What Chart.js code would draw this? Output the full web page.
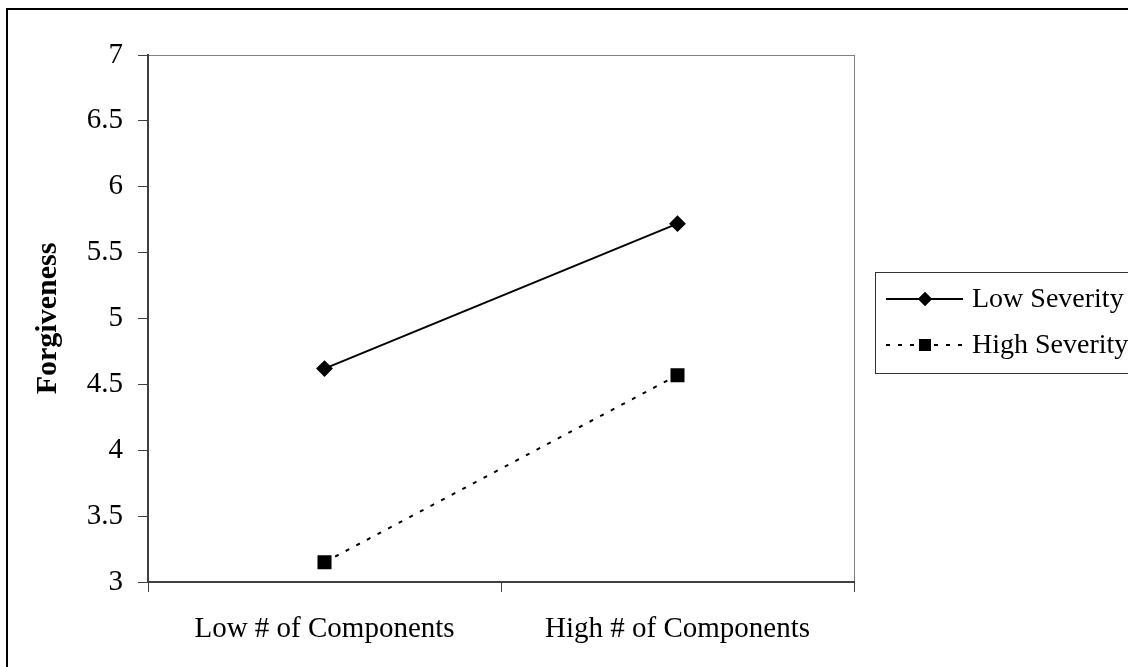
<!DOCTYPE html>
<html>
<head>
<meta charset="utf-8">
<script src="https://cdn.jsdelivr.net/npm/chart.js@4"></script>
<style>
  html, body { margin: 0; padding: 0; background: #fff; }
  #wrap { position: relative; width: 1128px; height: 667px; }
</style>
</head>
<body>
<div id="wrap"><canvas id="chart"></canvas></div>
<script>
// data
const categories = ['Low # of Components', 'High # of Components'];
const lowSeverity = [4.62, 5.72];
const highSeverity = [3.15, 4.57];
const seriesNames = ['Low Severity', 'High Severity'];
const yMin = 3, yMax = 7, yStep = 0.5;

const FONT = "'Liberation Serif', 'Times New Roman', serif";
const AXIS = '#404040';

// frame, plot box and legend drawn by hand
const decor = {
  id: 'decor',
  beforeDraw(chart) {
    const c = chart.ctx, a = chart.chartArea;
    c.save();
    c.strokeStyle = '#000';
    c.lineWidth = 2;
    c.strokeRect(7, 9, 1200, 700);
    c.strokeStyle = '#808080';
    c.lineWidth = 1;
    c.strokeRect(a.left + 0.5, a.top + 0.5, a.right - a.left, a.bottom - a.top);
    c.restore();
  },
  afterDraw(chart) {
    const c = chart.ctx;
    c.save();
    c.strokeStyle = '#333';
    c.lineWidth = 1;
    c.strokeRect(875.5, 272.5, 300, 101);
    const rows = [299, 345];
    chart.data.datasets.forEach((ds, i) => {
      const y = rows[i];
      c.strokeStyle = '#000';
      c.lineWidth = ds.borderWidth;
      c.setLineDash(ds.borderDash || []);
      c.beginPath(); c.moveTo(886, y); c.lineTo(963, y); c.stroke();
      c.setLineDash([]);
      Chart.helpers.drawPoint(c, { pointStyle: ds.pointStyle, radius: ds.pointRadius, borderWidth: 0 }, 925, y);
      c.fillStyle = '#000';
      c.fill();
      c.font = '28px ' + FONT;
      c.textBaseline = 'middle';
      c.fillText(ds.label, 972, y + 1);
    });
    c.restore();
  }
};

new Chart(document.getElementById('chart'), {
  type: 'line',
  data: {
    labels: categories,
    datasets: [{
      label: seriesNames[0],
      data: lowSeverity,
      borderColor: '#000',
      backgroundColor: '#000',
      borderWidth: 2,
      pointStyle: 'rectRot',
      pointRadius: 7,
      pointHoverRadius: 7
    }, {
      label: seriesNames[1],
      data: highSeverity,
      borderColor: '#000',
      backgroundColor: '#000',
      borderWidth: 2,
      borderDash: [4, 8],
      pointStyle: 'rect',
      pointRadius: 8.5,
      pointHoverRadius: 8.5
    }]
  },
  options: {
    responsive: true,
    maintainAspectRatio: false,
    animation: false,
    layout: { padding: { left: 0, top: 55, right: 274, bottom: 0 } },
    plugins: { legend: { display: false }, tooltip: { enabled: false } },
    scales: {
      x: {
        offset: true,
        grid: { offset: true, drawOnChartArea: false, drawTicks: true, tickLength: 10, color: AXIS },
        border: { color: AXIS, width: 2 },
        ticks: { color: '#000', font: { family: FONT, size: 29 }, padding: 20, maxRotation: 0 },
        afterFit(s) { s.height = 85; }
      },
      y: {
        min: yMin, max: yMax,
        grid: { drawOnChartArea: false, drawTicks: true, tickLength: 10, color: AXIS },
        border: { color: AXIS, width: 2 },
        ticks: { stepSize: yStep, color: '#000', font: { family: FONT, size: 29 }, padding: 15,
                 callback: v => String(v) },
        title: { display: true, text: 'Forgiveness', color: '#000', font: { family: FONT, size: 30, weight: 'bold' }, padding: { top: 30, bottom: 0 } },
        afterFit(s) { s.width = 148; }
      }
    }
  },
  plugins: [decor]
});
</script>
</body>
</html>
